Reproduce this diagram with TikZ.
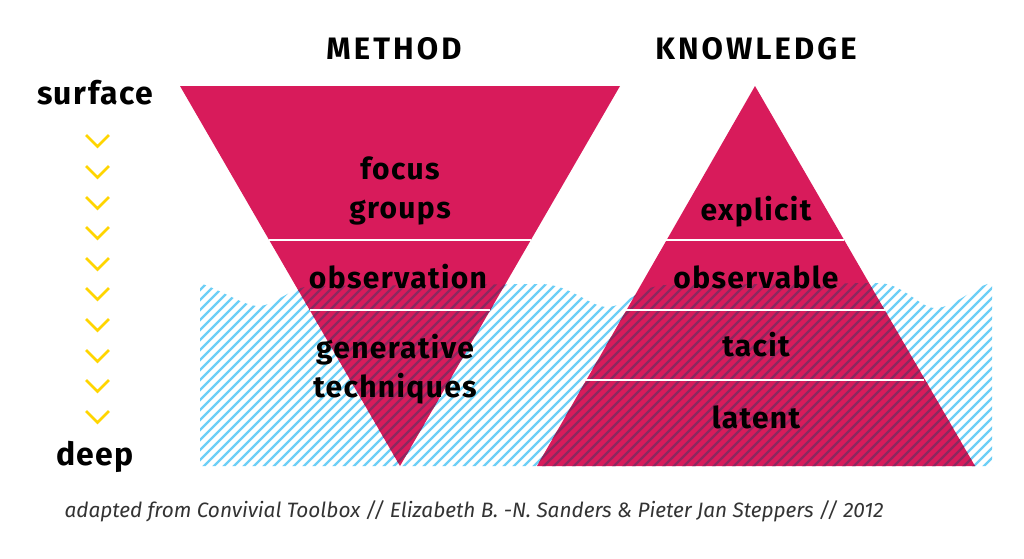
\documentclass[tikz,border=0pt]{standalone}
\usepackage{fontspec}
\setmainfont{Fira Sans}
\newfontfamily\lblfont{Fira Sans}[LetterSpace=4.5]
\newfontfamily\headfont{Fira Sans}[LetterSpace=10]
\newfontfamily\capfont{Fira Sans}
\definecolor{pinkc}{RGB}{216,27,91}
\definecolor{hatchblue}{RGB}{109,207,246}
\definecolor{hatchdark}{RGB}{140,40,95}
\definecolor{chev}{RGB}{255,213,0}
\begin{document}
\begin{tikzpicture}[x=1pt,y=-1pt,
  lbl/.style={font=\lblfont\bfseries\fontsize{30}{39}\selectfont, text=black, align=center, inner sep=0pt},
  side/.style={font=\lblfont\bfseries\fontsize{32}{36}\selectfont, text=black, inner sep=0pt},
  head/.style={font=\headfont\bfseries\fontsize{31}{36}\selectfont, text=black, inner sep=0pt},
  layerline/.style={white, line width=2.5pt},
  chevron/.style={chev, line width=2.6pt},
  hatchline/.style={line width=2.2pt},
  tri/.style={fill=pinkc}]
\useasboundingbox (0,0) rectangle (1024,558);
\fill[white] (0,0) rectangle (1024,558);

% water hatch (blue)
\begin{scope}
  \clip (200,466) -- (200,283) .. controls (225,292) and (245,306) .. (258,306) .. controls (275,306) and (290,287) .. (312,286) -- (540,284) .. controls (570,284) and (590,307) .. (607,307) .. controls (625,307) and (640,286) .. (665,285) -- (880,283) .. controls (905,285) and (920,308) .. (935,308) .. controls (955,308) and (975,285) .. (992,283) -- (992,466) -- cycle;
  \foreach \a in {0,10,...,1000} \draw[hatchblue, hatchline] (\a,470) -- ++(200,-200);
\end{scope}

% triangles
\fill[tri] (180,86) -- (620,86) -- (400,466) -- cycle;
\fill[tri] (755,86) -- (975,466) -- (537,466) -- cycle;

% dark hatch over triangles
\begin{scope}
  \clip (200,466) -- (200,283) .. controls (225,292) and (245,306) .. (258,306) .. controls (275,306) and (290,287) .. (312,286) -- (540,284) .. controls (570,284) and (590,307) .. (607,307) .. controls (625,307) and (640,286) .. (665,285) -- (880,283) .. controls (905,285) and (920,308) .. (935,308) .. controls (955,308) and (975,285) .. (992,283) -- (992,466) -- cycle;
  \begin{scope}
    \clip (180,86) -- (620,86) -- (400,466) -- cycle;
    \foreach \a in {0,10,...,1000} \draw[hatchdark, hatchline] (\a,470) -- ++(200,-200);
  \end{scope}
  \begin{scope}
    \clip (755,86) -- (975,466) -- (537,466) -- cycle;
    \foreach \a in {0,10,...,1000} \draw[hatchdark, hatchline] (\a,470) -- ++(200,-200);
  \end{scope}
\end{scope}

% layer separators
\draw[layerline] (269.2,240) -- (530.8,240);
\draw[layerline] (309.7,310) -- (490.3,310);
\draw[layerline] (666.3,240) -- (843.7,240);
\draw[layerline] (625.3,310) -- (884.7,310);
\draw[layerline] (585.6,380) -- (924.4,380);

% chevrons
\foreach \c in {141,172,203,233,264,294,325,356,386,417}
  \draw[chevron] (86,\c-6) -- (97.5,\c+5.5) -- (109,\c-6);

% headings
\node[head] (method) at (394,49) {METHOD};
\node[head] (knowledge) at (756,49) {KNOWLEDGE};
\node[side] (surface) at (95,93) {surface};
\node[side] (deep) at (95,457) {deep};

% labels
\node[lbl] (focus) at (400,191) {focus\\groups};
\node[lbl] (observation) at (398,277) {observation};
\node[lbl] (generative) at (395,369) {generative\\techniques};
\node[lbl] (explicit) at (756,212) {explicit};
\node[lbl] (observable) at (756,277) {observable};
\node[lbl] (tacit) at (756,345) {tacit};
\node[lbl] (latent) at (756,417) {latent};

% caption
\node[font=\capfont\itshape\fontsize{20.8}{24}\selectfont, text=black!80, inner sep=0pt] (caption) at (474,511) {adapted from Convivial Toolbox // Elizabeth B. -N. Sanders \& Pieter Jan Steppers // 2012};
\end{tikzpicture}
\end{document}
